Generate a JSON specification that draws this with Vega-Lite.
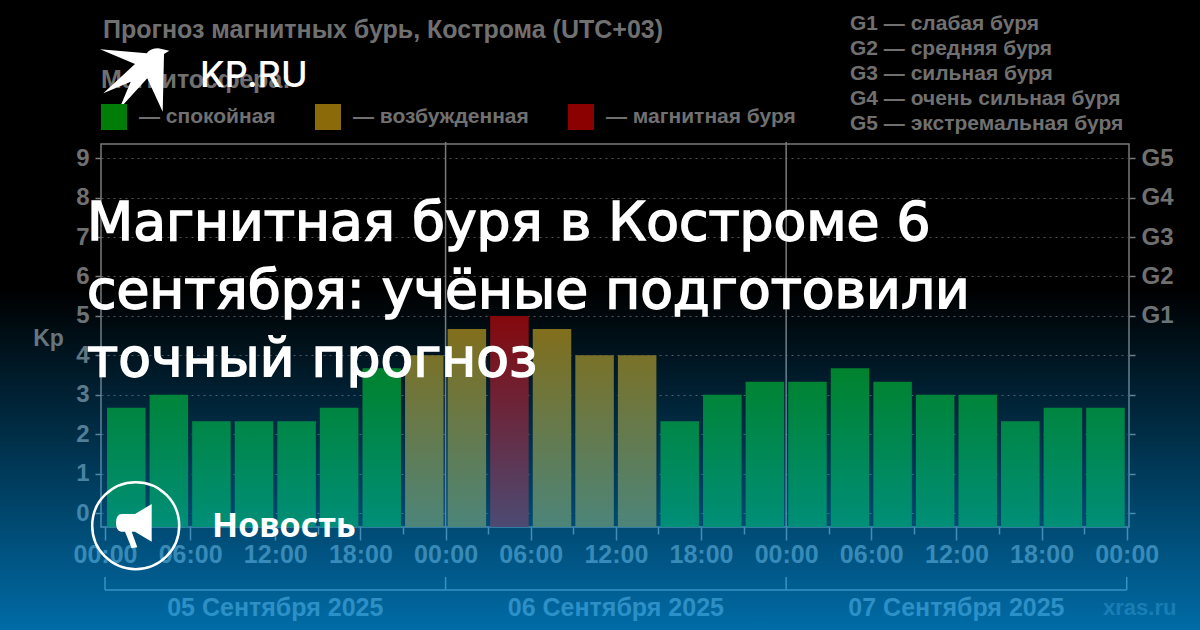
{
"$schema":"https://vega.github.io/schema/vega-lite/v6.json",
"width":1028,"height":383,
"autosize":{"type":"none"},
"padding":{"left":101,"top":144,"right":71,"bottom":103},
"background":"#000000",
"config":{"view":{"stroke":"#7a7a7a","strokeWidth":1.5},
"axis":{"labelFont":"Liberation Sans","labelFontWeight":"bold","labelFontSize":24,"labelColor":"#707070","tickColor":"#7a7a7a","tickWidth":1.5,"domain":false,"labelOverlap":false,"labelFlush":false,"labelBound":false,"titleFont":"Liberation Sans","titleFontWeight":"bold","titleColor":"#707070"},
"text":{"font":"Liberation Sans"}},
"datasets":{
"kp":[
{"time":"2025-09-05T01:30:00Z","kp":2.67,"status":"спокойная"},
{"time":"2025-09-05T04:30:00Z","kp":3,"status":"спокойная"},
{"time":"2025-09-05T07:30:00Z","kp":2.33,"status":"спокойная"},
{"time":"2025-09-05T10:30:00Z","kp":2.33,"status":"спокойная"},
{"time":"2025-09-05T13:30:00Z","kp":2.33,"status":"спокойная"},
{"time":"2025-09-05T16:30:00Z","kp":2.67,"status":"спокойная"},
{"time":"2025-09-05T19:30:00Z","kp":3.67,"status":"спокойная"},
{"time":"2025-09-05T22:30:00Z","kp":4,"status":"возбужденная"},
{"time":"2025-09-06T01:30:00Z","kp":4.67,"status":"возбужденная"},
{"time":"2025-09-06T04:30:00Z","kp":5,"status":"магнитная буря"},
{"time":"2025-09-06T07:30:00Z","kp":4.67,"status":"возбужденная"},
{"time":"2025-09-06T10:30:00Z","kp":4,"status":"возбужденная"},
{"time":"2025-09-06T13:30:00Z","kp":4,"status":"возбужденная"},
{"time":"2025-09-06T16:30:00Z","kp":2.33,"status":"спокойная"},
{"time":"2025-09-06T19:30:00Z","kp":3,"status":"спокойная"},
{"time":"2025-09-06T22:30:00Z","kp":3.33,"status":"спокойная"},
{"time":"2025-09-07T01:30:00Z","kp":3.33,"status":"спокойная"},
{"time":"2025-09-07T04:30:00Z","kp":3.67,"status":"спокойная"},
{"time":"2025-09-07T07:30:00Z","kp":3.33,"status":"спокойная"},
{"time":"2025-09-07T10:30:00Z","kp":3,"status":"спокойная"},
{"time":"2025-09-07T13:30:00Z","kp":3,"status":"спокойная"},
{"time":"2025-09-07T16:30:00Z","kp":2.33,"status":"спокойная"},
{"time":"2025-09-07T19:30:00Z","kp":2.67,"status":"спокойная"},
{"time":"2025-09-07T22:30:00Z","kp":2.67,"status":"спокойная"}],
"days":[
{"start":"2025-09-05T00:00:00Z","end":"2025-09-06T00:00:00Z","mid":"2025-09-05T12:00:00Z","label":"05 Сентября 2025"},
{"start":"2025-09-06T00:00:00Z","end":"2025-09-07T00:00:00Z","mid":"2025-09-06T12:00:00Z","label":"06 Сентября 2025"},
{"start":"2025-09-07T00:00:00Z","end":"2025-09-08T00:00:00Z","mid":"2025-09-07T12:00:00Z","label":"07 Сентября 2025"}],
"bounds":[{"time":"2025-09-05T00:00:00Z"},{"time":"2025-09-06T00:00:00Z"},{"time":"2025-09-07T00:00:00Z"},{"time":"2025-09-08T00:00:00Z"}],
"dividers":[{"time":"2025-09-06T00:00:00Z"},{"time":"2025-09-07T00:00:00Z"}],
"one":[{"id":1}]
},
"resolve":{"axis":{"x":"independent","y":"independent"}},
"layer":[
{"data":{"name":"kp"},"mark":{"type":"bar","width":38.5},
"encoding":{
"x":{"field":"time","type":"temporal","scale":{"type":"utc","nice":false,"padding":0,"domain":[1757029384800,1757290176000]},
"axis":{"title":null,"orient":"bottom","values":[1757030400000,1757052000000,1757073600000,1757095200000,1757116800000,1757138400000,1757160000000,1757181600000,1757203200000,1757224800000,1757246400000,1757268000000,1757289600000],"labelExpr":"utcFormat(datum.value,'%H:%M')","tickSize":13,"labelPadding":2,"labelAngle":0,"grid":false,"labelFontSize":25}},
"y":{"field":"kp","type":"quantitative","scale":{"domain":[-0.355,9.36],"nice":false,"zero":false},
"axis":{"orient":"left","values":[0,1,2,3,4,5,6,7,8,9],"title":"Kp","titleAngle":0,"titleAlign":"center","titleBaseline":"alphabetic","titleX":-53,"titleY":201,"titleFontSize":23,"tickSize":6,"labelPadding":6,"grid":true,"gridColor":"#555555","gridDash":[2,4],"gridWidth":1}},
"y2":{"datum":-0.355},
"color":{"field":"status","type":"nominal","scale":{"domain":["спокойная","возбужденная","магнитная буря"],"range":["#007c08","#8b6a0a","#8b0000"]},
"legend":{"orient":"none","legendX":0,"legendY":-40,"direction":"horizontal","columns":3,"title":null,"symbolType":"square","symbolSize":676,"symbolStrokeWidth":0,"symbolOpacity":1,"labelExpr":"'— ' + datum.label","labelFont":"Liberation Sans","labelFontWeight":"bold","labelFontSize":21,"labelColor":"#707070","labelOffset":12,"labelLimit":400,"columnPadding":39,"padding":0}}}},
{"data":{"name":"kp"},"mark":{"type":"bar","width":38.5,"opacity":0},
"encoding":{
"x":{"field":"time","type":"temporal","scale":{"type":"utc","nice":false,"padding":0,"domain":[1757029384800,1757290176000]},
"axis":{"title":null,"orient":"bottom","values":[1757041200000,1757062800000,1757084400000,1757106000000,1757127600000,1757149200000,1757170800000,1757192400000,1757214000000,1757235600000,1757257200000,1757278800000],"labels":false,"tickSize":7,"grid":false}},
"y":{"field":"kp","type":"quantitative","scale":{"domain":[-0.355,9.36],"nice":false,"zero":false},
"axis":{"orient":"right","values":[0,1,2,3,4,5,6,7,8,9],"title":null,"tickSize":6,"labelPadding":6,"grid":false,"labelExpr":"datum.value>=5 ? 'G'+(datum.value-4) : ''"}}}},
{"data":{"name":"dividers"},"mark":{"type":"rule","color":"#7a7a7a","strokeWidth":1.5},
"encoding":{"x":{"field":"time","type":"temporal","axis":null,"scale":{"type":"utc","nice":false,"padding":0,"domain":[1757029384800,1757290176000]}},"y":{"value":-2},"y2":{"value":383}}},
{"data":{"name":"bounds"},"mark":{"type":"rule","color":"#7a7a7a","strokeWidth":1.5},
"encoding":{"x":{"field":"time","type":"temporal","axis":null,"scale":{"type":"utc","nice":false,"padding":0,"domain":[1757029384800,1757290176000]}},"y":{"value":433},"y2":{"value":446}}},
{"data":{"name":"days"},"mark":{"type":"rule","color":"#7a7a7a","strokeWidth":1.5},
"encoding":{"x":{"field":"start","type":"temporal","axis":null,"scale":{"type":"utc","nice":false,"padding":0,"domain":[1757029384800,1757290176000]}},"x2":{"field":"end"},"y":{"value":446}}},
{"data":{"name":"days"},"mark":{"type":"text","font":"Liberation Sans","fontWeight":"bold","fontSize":25,"color":"#707070","align":"center","baseline":"alphabetic"},
"encoding":{"x":{"field":"mid","type":"temporal","axis":null,"scale":{"type":"utc","nice":false,"padding":0,"domain":[1757029384800,1757290176000]}},"y":{"value":472},"text":{"field":"label"}}},
{"data":{"values":[{"label":"xras.ru"}]},"mark":{"type":"text","font":"Liberation Sans","fontWeight":"bold","fontSize":22,"color":"#404040","align":"left","baseline":"alphabetic"},
"encoding":{"x":{"value":1002},"y":{"value":471},"text":{"field":"label"}}},
{"data":{"name":"one"},"mark":{"type":"rect","fill":{"gradient":"linear","x1":0,"y1":0,"x2":0,"y2":1,"stops":[{"offset":0,"color":"rgba(0,165,255,0)"},{"offset":1,"color":"rgba(0,165,255,0.65)"}]}},
"encoding":{"x":{"value":-101},"x2":{"value":1099},"y":{"value":146},"y2":{"value":486}}},
{"data":{"values":[{"label":"Прогноз магнитных бурь, Кострома (UTC+03)"}]},"mark":{"type":"text","font":"Liberation Sans","fontWeight":"bold","fontSize":25,"color":"#707070","align":"left","baseline":"alphabetic"},
"encoding":{"x":{"value":2},"y":{"value":-106},"text":{"field":"label"}}},
{"data":{"values":[{"label":"Магнитосфера:"}]},"mark":{"type":"text","font":"Liberation Sans","fontWeight":"bold","fontSize":25,"color":"#707070","align":"left","baseline":"alphabetic"},
"encoding":{"x":{"value":0},"y":{"value":-56},"text":{"field":"label"}}},
{"data":{"values":[{"label":"G1 — слабая буря\nG2 — средняя буря\nG3 — сильная буря\nG4 — очень сильная буря\nG5 — экстремальная буря"}]},"mark":{"type":"text","font":"Liberation Sans","fontWeight":"bold","fontSize":21,"color":"#707070","align":"left","baseline":"alphabetic","lineBreak":"\n","lineHeight":25},
"encoding":{"x":{"value":749},"y":{"value":-114},"text":{"field":"label"}}},
{"data":{"values":[{"label":"Магнитная буря в Костроме 6\nсентября: учёные подготовили\nточный прогноз"}]},"mark":{"type":"text","font":"DejaVu Sans","fontWeight":"normal","fontSize":53.5,"color":"#ffffff","stroke":"#ffffff","strokeWidth":1.6,"align":"left","baseline":"alphabetic","lineBreak":"\n","lineHeight":68},
"encoding":{"x":{"value":-14},"y":{"value":96},"text":{"field":"label"}}},
{"data":{"values":[{"label":"KP.RU"}]},"mark":{"type":"text","font":"Inter","fontWeight":500,"fontSize":36,"color":"#ffffff","align":"left","baseline":"alphabetic"},
"encoding":{"x":{"value":99},"y":{"value":-57},"text":{"field":"label"}}},
{"data":{"values":[{"label":"Новость"}]},"mark":{"type":"text","font":"Noto Sans","fontWeight":"bold","fontSize":34,"color":"#ffffff","align":"left","baseline":"alphabetic"},
"encoding":{"x":{"value":111},"y":{"value":393},"text":{"field":"label"}}},
{"data":{"name":"one"},"mark":{"type":"point","filled":true,"fill":"#ffffff","opacity":1,"size":4900,"strokeWidth":0,"shape":"M-0.991,-0.877 L0.343,-0.763 Q0.45,-0.906 0.674,-0.906 L0.989,-0.837 L0.837,-0.743 Q0.82,0.1 0.8,0.906 L0.36,-0.049 L-0.44,0.829 L-0.114,0.049 L-0.897,0.38 L0.009,-0.457 Z"},
"encoding":{"x":{"value":33.7},"y":{"value":-64}}},
{"data":{"name":"one"},"mark":{"type":"point","filled":false,"stroke":"#ffffff","fill":null,"opacity":1,"shape":"circle","size":7569,"strokeWidth":2.5},
"encoding":{"x":{"value":34.7},"y":{"value":381.7}}},
{"data":{"name":"one"},"mark":{"type":"point","filled":true,"fill":"#ffffff","opacity":1,"size":2304,"strokeWidth":0,"shape":"M0.737,-0.917 L0.737,0.654 L0.042,0.238 L-0.096,0.238 L0.138,0.888 L-0.096,0.929 L-0.375,0.238 L-0.54,0.238 Q-0.75,0.2 -0.75,-0.125 Q-0.75,-0.5 -0.5,-0.5 L0.042,-0.5 Z"},
"encoding":{"x":{"value":33},"y":{"value":382}}}
]
}
